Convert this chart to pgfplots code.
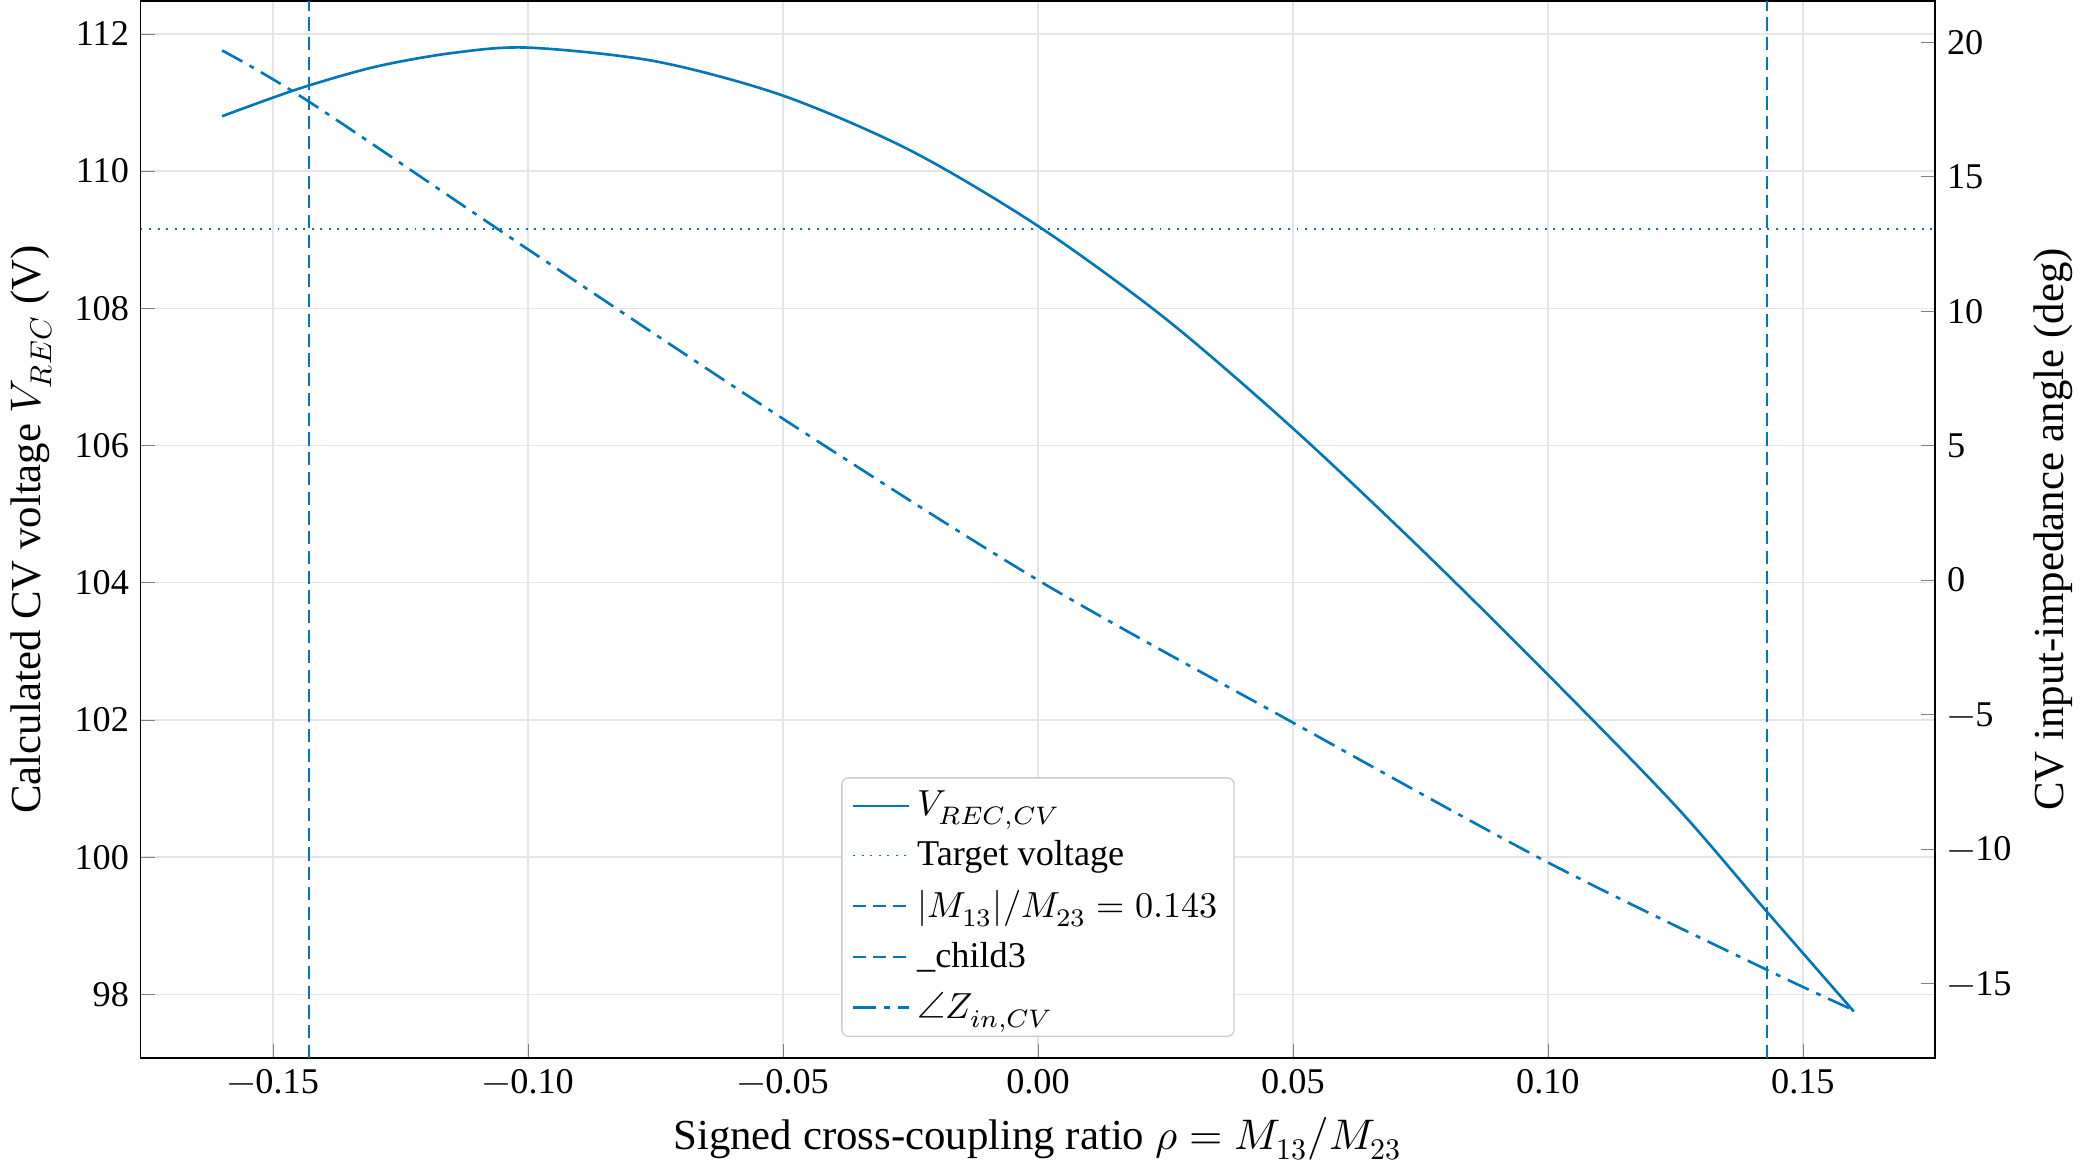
\documentclass[border=0pt]{standalone}
\usepackage{pgfplots}
\pgfplotsset{compat=1.18}
\usepackage{fontspec}
\setmainfont{Liberation Serif}
\usepackage{unicode-math}
\setmathfont{Latin Modern Math}
\definecolor{c1}{HTML}{0077BB}
\begin{document}
\begin{tikzpicture}
\pgfplotsset{every axis/.append style={scale only axis,width=545pt,height=321pt,xmin=-0.176,xmax=0.176,
  tick label style={font=\fontsize{11}{12}\selectfont},label style={font=\fontsize{13}{14}\selectfont},
  /pgf/number format/assume math mode=true,axis line style={black,semithick}}}
\begin{axis}[ymin=97.07,ymax=112.48,
  xtick={-0.15,-0.1,...,0.16},xticklabels={$-$0.15,$-$0.10,$-$0.05,0.00,0.05,0.10,0.15},
  ytick={98,100,...,112},ytick pos=left,xtick pos=bottom,grid=major,grid style={gray!20},
  xlabel={Signed cross-coupling ratio $\rho=M_{13}/M_{23}$},ylabel={Calculated CV voltage $V_{REC}$ (V)},
  clip=false]
\addplot[c1,thick,smooth] coordinates {(-0.16,110.8)(-0.145,111.2)(-0.13,111.52)(-0.115,111.72)(-0.10,111.8)(-0.075,111.6)(-0.05,111.1)(-0.025,110.3)(0,109.2)(0.025,107.85)(0.05,106.25)(0.075,104.5)(0.10,102.66)(0.125,100.75)(0.143,99.2)(0.16,97.75)};
\addplot[c1,semithick,dotted] coordinates {(-0.176,109.15)(0.176,109.15)};
\addplot[c1,semithick,dash pattern=on 4pt off 2pt] coordinates {(-0.143,97.07)(-0.143,112.48)};
\addplot[c1,semithick,dash pattern=on 4pt off 2pt] coordinates {(0.143,97.07)(0.143,112.48)};
\end{axis}
\begin{axis}[ymin=-17.78,ymax=21.54,axis y line*=right,axis x line=none,
  ytick={-15,-10,...,20},yticklabels={$-$15,$-$10,$-$5,0,5,10,15,20},ylabel={CV input-impedance angle (deg)},
  legend style={at={(0.5,0.02)},anchor=south,font=\fontsize{11}{13}\selectfont,draw=gray!40,rounded corners=2pt,row sep=2pt},
  legend cell align=left]
\addlegendimage{c1,thick}\addlegendentry{$V_{REC,CV}$}
\addlegendimage{c1,semithick,dotted}\addlegendentry{Target voltage}
\addlegendimage{c1,semithick,dash pattern=on 4pt off 2pt}\addlegendentry{$|M_{13}|/M_{23}=0.143$}
\addlegendimage{c1,semithick,dash pattern=on 4pt off 2pt}\addlegendentry{\_child3}
\addplot[c1,thick,dash pattern=on 7pt off 2.5pt on 1.5pt off 2.5pt,smooth] coordinates {(-0.16,19.7)(-0.143,17.8)(-0.10,12.3)(-0.05,6.0)(0,0.0)(0.05,-5.3)(0.10,-10.5)(0.143,-14.5)(0.16,-16.0)};
\addlegendentry{$\angle Z_{in,CV}$}
\end{axis}
\end{tikzpicture}
\end{document}
